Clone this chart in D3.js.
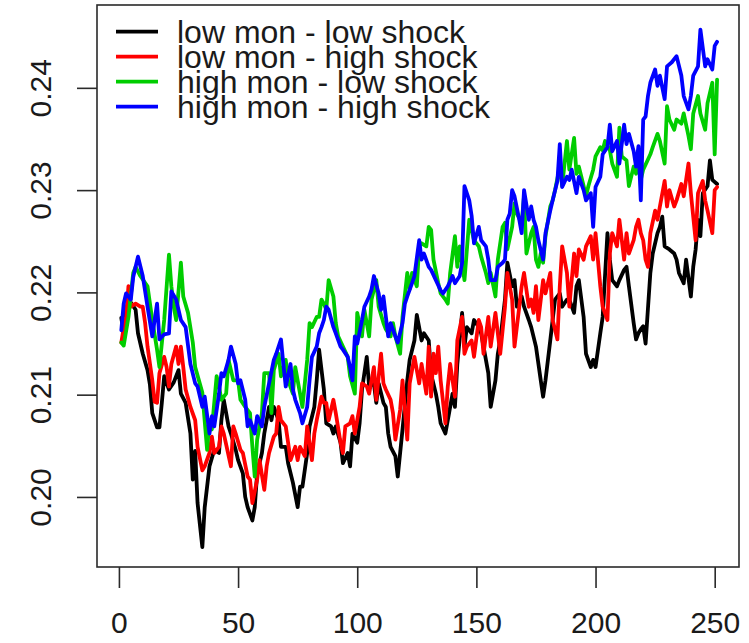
<!DOCTYPE html>
<html>
<head>
<meta charset="utf-8">
<script src="https://cdn.jsdelivr.net/npm/d3@7"></script>
<style>
  body { margin: 0; background: #fff; }
  text { font-family: 'Liberation Sans', Arial, Helvetica, sans-serif; fill: #1a1a1a; }
</style>
</head>
<body>
<div id="chart"></div>
<script>
// series, as [step, value]
const lowMonLowShock = [
  [1, 0.2175], [2, 0.2160], [3, 0.2185], [5, 0.2190], [7, 0.2183], [8, 0.2160], [10, 0.2140], [12, 0.2124],
  [13, 0.2110], [14, 0.2082], [16, 0.2068], [17, 0.2068], [18, 0.2092], [19, 0.2118], [21, 0.2105], [23, 0.2112],
  [25, 0.2124], [26, 0.2101], [28, 0.2092], [30, 0.2062], [31, 0.2017], [32, 0.2045], [33, 0.1994], [35, 0.1951],
  [36, 0.1990], [38, 0.2030], [40, 0.2046], [42, 0.2043], [43, 0.2075], [44, 0.2095], [46, 0.2069], [47, 0.2062],
  [49, 0.2046], [50, 0.2036], [52, 0.2023], [53, 0.2000], [54, 0.1990], [56, 0.1977], [57, 0.1990], [58, 0.2023],
  [60, 0.2043], [61, 0.2062], [63, 0.2088], [64, 0.2075], [65, 0.2088], [67, 0.2075], [68, 0.2049], [70, 0.2049],
  [71, 0.2033], [73, 0.2014], [75, 0.1990], [76, 0.2010], [77, 0.2010], [79, 0.2043], [80, 0.2069], [82, 0.2088],
  [83, 0.2114], [84, 0.2144], [86, 0.2105], [87, 0.2072], [89, 0.2069], [90, 0.2062], [91, 0.2069], [93, 0.2053],
  [94, 0.2033], [96, 0.2043], [97, 0.2030], [98, 0.2062], [100, 0.2053], [101, 0.2072], [102, 0.2105], [104, 0.2137],
  [105, 0.2108], [107, 0.2111], [108, 0.2092], [109, 0.2111], [111, 0.2092], [112, 0.2088], [113, 0.2062], [114, 0.2049],
  [116, 0.2040], [117, 0.2020], [119, 0.2066], [121, 0.2114], [122, 0.2134], [124, 0.2153], [125, 0.2178], [127, 0.2153],
  [128, 0.2160], [130, 0.2153], [131, 0.2120], [133, 0.2101], [134, 0.2088], [135, 0.2072], [137, 0.2062], [138, 0.2075],
  [140, 0.2101], [141, 0.2088], [142, 0.2130], [144, 0.2180], [145, 0.2147], [146, 0.2166], [148, 0.2160], [149, 0.2173],
  [151, 0.2166], [152, 0.2160], [153, 0.2147], [155, 0.2121], [156, 0.2088], [158, 0.2114], [159, 0.2140], [160, 0.2153],
  [162, 0.2193], [163, 0.2229], [165, 0.2206], [166, 0.2212], [167, 0.2186], [169, 0.2196], [170, 0.2186], [172, 0.2173],
  [173, 0.2166], [175, 0.2147], [177, 0.2114], [178, 0.2098], [179, 0.2114], [181, 0.2153], [182, 0.2173], [183, 0.2193],
  [185, 0.2199], [186, 0.2186], [188, 0.2193], [189, 0.2193], [191, 0.2180], [192, 0.2206], [193, 0.2212], [195, 0.2176],
  [196, 0.2140], [198, 0.2127], [199, 0.2134], [200, 0.2127], [202, 0.2160], [203, 0.2176], [205, 0.2258], [206, 0.2232],
  [207, 0.2212], [209, 0.2206], [210, 0.2212], [212, 0.2222], [213, 0.2225], [214, 0.2206], [216, 0.2170], [217, 0.2154],
  [218, 0.2160], [219, 0.2164], [220, 0.2167], [221, 0.2150], [223, 0.2219], [224, 0.2238], [226, 0.2258], [227, 0.2264],
  [228, 0.2274], [229, 0.2245], [231, 0.2242], [233, 0.2238], [234, 0.2232], [235, 0.2219], [237, 0.2209], [238, 0.2232],
  [240, 0.2196], [241, 0.2225], [242, 0.2242], [243, 0.2271], [244, 0.2255], [245, 0.2297], [247, 0.2304], [248, 0.2329],
  [249, 0.2310], [251, 0.2306]
];

const lowMonHighShock = [
  [1, 0.2151], [2, 0.2165], [3, 0.2176], [4, 0.2206], [5, 0.2186], [7, 0.2189], [9, 0.2186], [10, 0.2186],
  [11, 0.2170], [12, 0.2147], [14, 0.2114], [15, 0.2093], [16, 0.2092], [17, 0.2121], [19, 0.2137], [20, 0.2127],
  [21, 0.2108], [22, 0.2130], [24, 0.2147], [25, 0.2130], [26, 0.2147], [27, 0.2127], [28, 0.2105], [30, 0.2088],
  [32, 0.2075], [33, 0.2049], [35, 0.2026], [36, 0.2030], [38, 0.2043], [39, 0.2059], [40, 0.2043], [42, 0.2049],
  [43, 0.2069], [44, 0.2062], [47, 0.2030], [48, 0.2069], [49, 0.2062], [51, 0.2046], [52, 0.2043], [54, 0.2020],
  [55, 0.2017], [56, 0.1994], [58, 0.2017], [59, 0.2036], [61, 0.2007], [62, 0.2030], [63, 0.2043], [65, 0.2059],
  [66, 0.2062], [67, 0.2088], [68, 0.2075], [70, 0.2069], [71, 0.2053], [72, 0.2036], [74, 0.2049], [75, 0.2036],
  [76, 0.2049], [78, 0.2040], [79, 0.2069], [81, 0.2036], [82, 0.2062], [83, 0.2075], [85, 0.2098], [86, 0.2092],
  [87, 0.2092], [88, 0.2075], [90, 0.2095], [91, 0.2082], [93, 0.2053], [94, 0.2043], [95, 0.2069], [97, 0.2072],
  [98, 0.2079], [99, 0.2062], [101, 0.2088], [102, 0.2111], [104, 0.2108], [105, 0.2101], [107, 0.2127], [108, 0.2095],
  [110, 0.2140], [111, 0.2111], [112, 0.2105], [114, 0.2095], [115, 0.2082], [116, 0.2056], [118, 0.2085], [119, 0.2114],
  [121, 0.2056], [122, 0.2111], [124, 0.2137], [125, 0.2124], [126, 0.2111], [127, 0.2130], [129, 0.2101], [130, 0.2147],
  [131, 0.2098], [132, 0.2140], [133, 0.2121], [134, 0.2147], [135, 0.2114], [137, 0.2072], [138, 0.2108], [139, 0.2130],
  [141, 0.2098], [142, 0.2153], [144, 0.2176], [145, 0.2140], [146, 0.2147], [148, 0.2153], [149, 0.2137], [151, 0.2173],
  [152, 0.2166], [153, 0.2140], [155, 0.2176], [156, 0.2147], [158, 0.2180], [159, 0.2160], [160, 0.2140], [162, 0.2186],
  [163, 0.2219], [165, 0.2193], [166, 0.2147], [168, 0.2186], [169, 0.2206], [170, 0.2219], [172, 0.2186], [173, 0.2193],
  [174, 0.2180], [175, 0.2206], [176, 0.2173], [178, 0.2212], [179, 0.2199], [181, 0.2219], [182, 0.2173], [184, 0.2154],
  [185, 0.2206], [186, 0.2245], [188, 0.2219], [189, 0.2186], [191, 0.2238], [192, 0.2216], [193, 0.2242], [195, 0.2232],
  [196, 0.2245], [198, 0.2255], [199, 0.2232], [200, 0.2258], [202, 0.2206], [203, 0.2186], [205, 0.2173], [206, 0.2238],
  [207, 0.2258], [209, 0.2245], [210, 0.2271], [212, 0.2232], [213, 0.2258], [214, 0.2238], [216, 0.2251], [217, 0.2264],
  [218, 0.2271], [219, 0.2258], [220, 0.2251], [221, 0.2232], [222, 0.2225], [223, 0.2258], [225, 0.2280], [226, 0.2271],
  [227, 0.2284], [229, 0.2309], [230, 0.2284], [231, 0.2300], [233, 0.2284], [234, 0.2290], [236, 0.2306], [237, 0.2294],
  [239, 0.2326], [240, 0.2297], [242, 0.2251], [243, 0.2297], [245, 0.2309], [246, 0.2290], [247, 0.2280], [249, 0.2258],
  [250, 0.2300], [251, 0.2303]
];

const highMonLowShock = [
  [1, 0.2151], [2, 0.2148], [4, 0.2176], [6, 0.2219], [7, 0.2225], [9, 0.2216], [12, 0.2206], [14, 0.2173],
  [16, 0.2144], [17, 0.2127], [19, 0.2173], [21, 0.2237], [22, 0.2206], [23, 0.2186], [24, 0.2173], [26, 0.2229],
  [27, 0.2196], [29, 0.2180], [31, 0.2151], [32, 0.2127], [35, 0.2102], [37, 0.2046], [38, 0.2075], [39, 0.2066],
  [41, 0.2118], [42, 0.2108], [43, 0.2095], [45, 0.2101], [46, 0.2134], [48, 0.2114], [50, 0.2114], [51, 0.2095],
  [53, 0.2088], [55, 0.2082], [56, 0.2049], [57, 0.2020], [58, 0.2056], [60, 0.2082], [61, 0.2121], [63, 0.2121],
  [64, 0.2082], [65, 0.2124], [67, 0.2140], [68, 0.2118], [70, 0.2134], [71, 0.2114], [73, 0.2101], [74, 0.2127],
  [76, 0.2101], [77, 0.2088], [79, 0.2134], [80, 0.2170], [81, 0.2166], [83, 0.2176], [84, 0.2176], [85, 0.2193],
  [86, 0.2189], [87, 0.2183], [88, 0.2212], [90, 0.2196], [91, 0.2170], [92, 0.2157], [94, 0.2147], [96, 0.2137],
  [97, 0.2118], [99, 0.2101], [100, 0.2180], [102, 0.2157], [103, 0.2183], [105, 0.2157], [106, 0.2193], [108, 0.2212],
  [109, 0.2186], [111, 0.2170], [112, 0.2164], [114, 0.2157], [115, 0.2170], [116, 0.2157], [118, 0.2140], [119, 0.2176],
  [121, 0.2219], [122, 0.2203], [123, 0.2219], [125, 0.2206], [126, 0.2245], [127, 0.2248], [129, 0.2245], [130, 0.2264],
  [131, 0.2261], [132, 0.2232], [134, 0.2209], [135, 0.2199], [137, 0.2193], [138, 0.2189], [139, 0.2219], [141, 0.2255],
  [142, 0.2225], [143, 0.2245], [145, 0.2212], [147, 0.2271], [148, 0.2261], [149, 0.2251], [151, 0.2245], [152, 0.2235],
  [154, 0.2219], [155, 0.2209], [156, 0.2219], [158, 0.2196], [159, 0.2232], [161, 0.2264], [162, 0.2268], [163, 0.2242],
  [165, 0.2264], [166, 0.2287], [167, 0.2277], [169, 0.2268], [170, 0.2294], [171, 0.2238], [173, 0.2258], [174, 0.2264],
  [175, 0.2232], [176, 0.2225], [177, 0.2238], [178, 0.2229], [179, 0.2255], [181, 0.2284], [182, 0.2290], [183, 0.2300],
  [185, 0.2323], [186, 0.2304], [188, 0.2348], [189, 0.2320], [191, 0.2351], [192, 0.2316], [193, 0.2323], [195, 0.2304],
  [196, 0.2294], [197, 0.2304], [199, 0.2320], [200, 0.2333], [202, 0.2342], [203, 0.2339], [204, 0.2348], [206, 0.2339],
  [207, 0.2326], [209, 0.2313], [210, 0.2361], [211, 0.2333], [213, 0.2329], [214, 0.2304], [216, 0.2323], [217, 0.2316],
  [218, 0.2330], [219, 0.2310], [220, 0.2320], [222, 0.2330], [223, 0.2335], [224, 0.2342], [226, 0.2355], [227, 0.2348],
  [229, 0.2326], [230, 0.2382], [231, 0.2369], [233, 0.2359], [234, 0.2369], [236, 0.2365], [237, 0.2375], [239, 0.2353],
  [240, 0.2340], [241, 0.2375], [243, 0.2392], [244, 0.2375], [246, 0.2359], [247, 0.2385], [249, 0.2405], [250, 0.2335],
  [251, 0.2408]
];

const highMonHighShock = [
  [1, 0.2163], [2, 0.2189], [3, 0.2199], [5, 0.2193], [6, 0.2215], [8, 0.2235], [10, 0.2216], [12, 0.2186],
  [14, 0.2157], [16, 0.2189], [17, 0.2154], [19, 0.2159], [21, 0.2160], [22, 0.2201], [24, 0.2193], [26, 0.2173],
  [28, 0.2166], [30, 0.2130], [32, 0.2111], [33, 0.2108], [35, 0.2088], [36, 0.2098], [38, 0.2062], [39, 0.2079],
  [40, 0.2069], [42, 0.2101], [43, 0.2121], [44, 0.2118], [46, 0.2134], [47, 0.2147], [49, 0.2130], [50, 0.2111],
  [51, 0.2114], [53, 0.2095], [54, 0.2069], [55, 0.2075], [57, 0.2062], [58, 0.2079], [60, 0.2069], [61, 0.2088],
  [63, 0.2111], [65, 0.2134], [66, 0.2140], [68, 0.2154], [69, 0.2130], [70, 0.2108], [72, 0.2130], [73, 0.2105],
  [74, 0.2095], [76, 0.2082], [77, 0.2072], [79, 0.2088], [80, 0.2114], [81, 0.2137], [83, 0.2147], [84, 0.2160],
  [85, 0.2166], [86, 0.2173], [87, 0.2186], [88, 0.2183], [90, 0.2166], [91, 0.2160], [93, 0.2147], [94, 0.2144],
  [96, 0.2137], [97, 0.2127], [98, 0.2114], [99, 0.2157], [100, 0.2150], [102, 0.2173], [103, 0.2186], [105, 0.2196],
  [106, 0.2203], [107, 0.2216], [109, 0.2199], [110, 0.2183], [111, 0.2196], [113, 0.2157], [114, 0.2170], [116, 0.2157],
  [117, 0.2151], [119, 0.2170], [120, 0.2189], [121, 0.2196], [123, 0.2209], [124, 0.2216], [126, 0.2251], [127, 0.2232],
  [128, 0.2238], [130, 0.2225], [131, 0.2222], [133, 0.2212], [135, 0.2202], [136, 0.2199], [138, 0.2206], [140, 0.2216],
  [141, 0.2209], [143, 0.2216], [144, 0.2229], [145, 0.2304], [147, 0.2290], [148, 0.2275], [149, 0.2248], [151, 0.2264],
  [152, 0.2251], [154, 0.2245], [155, 0.2232], [156, 0.2212], [158, 0.2212], [159, 0.2225], [161, 0.2229], [162, 0.2232],
  [163, 0.2271], [164, 0.2277], [165, 0.2300], [166, 0.2294], [168, 0.2271], [169, 0.2258], [170, 0.2300], [172, 0.2271],
  [173, 0.2284], [174, 0.2271], [175, 0.2264], [176, 0.2251], [178, 0.2232], [179, 0.2258], [181, 0.2280], [182, 0.2290],
  [184, 0.2309], [185, 0.2345], [186, 0.2303], [188, 0.2313], [189, 0.2310], [190, 0.2320], [192, 0.2297], [193, 0.2313],
  [195, 0.2300], [196, 0.2290], [198, 0.2297], [199, 0.2264], [200, 0.2303], [202, 0.2313], [203, 0.2335], [205, 0.2342],
  [206, 0.2364], [207, 0.2338], [209, 0.2348], [210, 0.2326], [212, 0.2364], [213, 0.2345], [214, 0.2355], [216, 0.2338],
  [217, 0.2323], [218, 0.2343], [219, 0.2290], [220, 0.2369], [221, 0.2372], [222, 0.2392], [223, 0.2405], [225, 0.2418],
  [226, 0.2402], [227, 0.2412], [229, 0.2389], [230, 0.2421], [232, 0.2425], [233, 0.2428], [234, 0.2431], [236, 0.2412],
  [237, 0.2392], [239, 0.2379], [240, 0.2392], [241, 0.2412], [243, 0.2421], [244, 0.2457], [246, 0.2421], [247, 0.2428],
  [249, 0.2418], [250, 0.2441], [251, 0.2445]
];

const seriesNames = ['low mon - low shock', 'low mon - high shock', 'high mon - low shock', 'high mon - high shock'];
const seriesColors = ['#000000', '#ff0000', '#00cd00', '#0000ff'];
const seriesData = [lowMonLowShock, lowMonHighShock, highMonLowShock, highMonHighShock];

const xTicks = [0, 50, 100, 150, 200, 250];
const yTicks = [0.20, 0.21, 0.22, 0.23, 0.24];

const width = 749;
const height = 643;
const box = { left: 97, right: 739, top: 5, bottom: 567 };

const svg = d3.select('#chart')
  .append('svg')
  .attr('width', width)
  .attr('height', height);

// R style: data range padded by 4% on each side
const x = d3.scaleLinear()
  .domain([-9.2, 260.2])
  .range([box.left, box.right]);

const y = d3.scaleLinear()
  .domain([0.19315, 0.2481])
  .range([box.bottom, box.top]);

const line = d3.line()
  .x(d => x(d[0]))
  .y(d => y(d[1]));

for (let i = 0; i < seriesData.length; i += 1) {
  svg.append('path')
    .datum(seriesData[i])
    .attr('fill', 'none')
    .attr('stroke', seriesColors[i])
    .attr('stroke-width', 3.8)
    .attr('stroke-linejoin', 'round')
    .attr('stroke-linecap', 'round')
    .attr('d', line);
}

// box
svg.append('rect')
  .attr('x', box.left)
  .attr('y', box.top)
  .attr('width', box.right - box.left)
  .attr('height', box.bottom - box.top)
  .attr('fill', 'none')
  .attr('stroke', '#2a2a2a')
  .attr('stroke-width', 1.6);

// x axis
const xAxis = svg.append('g')
  .attr('transform', `translate(0, ${box.bottom})`)
  .call(d3.axisBottom(x)
    .tickValues(xTicks)
    .tickSize(21)
    .tickPadding(24)
    .tickFormat(d3.format('d')));
xAxis.select('.domain').remove();
xAxis.selectAll('line').attr('stroke', '#2a2a2a').attr('stroke-width', 1.6);
xAxis.selectAll('text')
  .attr('font-size', 30)
  .attr('font-family', "'Liberation Sans', Arial, sans-serif")
  .attr('fill', '#1a1a1a');

// y axis
const yAxis = svg.append('g')
  .attr('transform', `translate(${box.left}, 0)`)
  .call(d3.axisLeft(y)
    .tickValues(yTicks)
    .tickSize(20)
    .tickFormat(d3.format('.2f')));
yAxis.select('.domain').remove();
yAxis.selectAll('line').attr('stroke', '#2a2a2a').attr('stroke-width', 1.6);
yAxis.selectAll('text')
  .attr('x', null)
  .attr('dy', null)
  .attr('transform', 'translate(-46, 0) rotate(-90)')
  .attr('text-anchor', 'middle')
  .attr('font-size', 30)
  .attr('font-family', "'Liberation Sans', Arial, sans-serif")
  .attr('fill', '#1a1a1a');

// legend, no frame; rows are tighter than the text, as in the original
const legend = svg.append('g')
  .selectAll('g')
  .data(seriesNames)
  .enter()
  .append('g')
  .attr('transform', (d, i) => `translate(0, ${31.7 + i * 25})`);

legend.append('line')
  .attr('x1', 116)
  .attr('x2', 158)
  .attr('stroke', (d, i) => seriesColors[i])
  .attr('stroke-width', 3.8);

legend.append('text')
  .attr('x', 177)
  .attr('y', 11)
  .attr('font-size', 32)
  .text(d => d);
</script>
</body>
</html>
